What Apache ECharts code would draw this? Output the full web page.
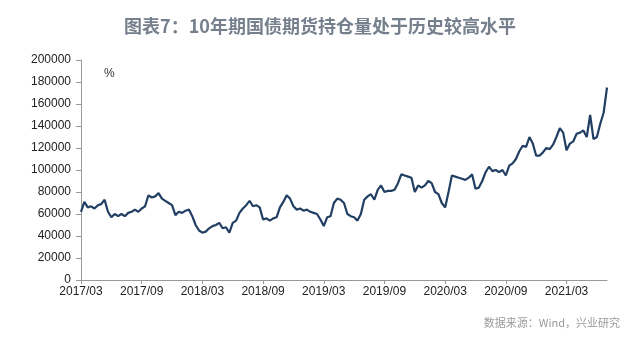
<!DOCTYPE html>
<html><head><meta charset="utf-8">
<script src="https://cdn.jsdelivr.net/npm/echarts@6/dist/echarts.min.js"></script>
<style>html,body{margin:0;padding:0;background:#fff}#c{width:640px;height:341px}</style>
</head><body><div id="c"></div>
<script>
// dekad-level readings (3 per month) from 2017/03 to 2021/07
const values = [
62000,71000,66000,67000,65000,68000,69000,73000,62000,57000,
60000,58000,60000,58000,61000,62000,64000,62000,65000,67000,
77000,75000,76000,79000,74000,72000,70000,68000,59000,62000,
61000,63000,64000,58000,50000,45000,43000,44000,47000,49000,
50000,52000,47000,48000,43000,52000,54000,61000,65000,68000,
72000,67000,68000,66000,55000,56000,54000,56000,57000,66000,
71000,77000,74000,67000,64000,65000,63000,64000,62000,61000,
60000,55000,49000,57000,58000,70000,74000,73000,70000,60000,
58000,57000,54000,60000,73000,76000,78000,73000,82000,86000,
80000,81000,81000,82000,88000,96000,95000,94000,93000,80000,
86000,84000,86000,90000,88000,80000,78000,70000,66000,80000,
95000,94000,93000,92000,91000,93000,96000,83000,84000,90000,
98000,103000,99000,100000,98000,100000,95000,104000,106000,110000,
117000,122000,121000,130000,124000,113000,113000,116000,120000,119000,
123000,130000,138000,134000,118000,124000,126000,133000,134000,136000,
130000,150000,128000,130000,142000,152000,175000
];
const startYear = 2017, startMonth = 3;
const categories = [];
for (let i = 0; i < values.length; i++) {
  const m = startMonth - 1 + Math.floor(i / 3);
  const y = startYear + Math.floor(m / 12);
  const mm = (m % 12) + 1;
  const d = ['01','11','21'][i % 3];
  categories.push(y + '/' + (mm < 10 ? '0' + mm : mm) + '/' + d);
}
const yTicks = [0, 200000, 20000];
const titleText = '图表7：10年期国债期货持仓量处于历史较高水平';
const unitText = '%';
const sourceText = '数据来源：Wind，兴业研究';

const chart = echarts.init(document.getElementById('c'));
chart.setOption({
  animation: false,
  title: {
    text: titleText, left: 'center', top: 12,
    textStyle: {fontSize: 18, fontWeight: 'bold', color: '#75808c', fontFamily: 'Noto Sans CJK SC'}
  },
  graphic: [
    {type: 'text', left: 104, top: 68, style: {text: unitText, fontSize: 12, fill: '#333', fontFamily: 'Liberation Sans'}},
    {type: 'text', right: 20, top: 317, style: {text: sourceText, fontSize: 11, fill: '#9a9a9a', fontFamily: 'Noto Sans CJK SC'}}
  ],
  grid: {left: 81, right: 33, top: 60, bottom: 61},
  xAxis: {
    type: 'category', data: categories, boundaryGap: false,
    axisLine: {lineStyle: {color: '#999'}},
    axisTick: {interval: 17, length: 4, lineStyle: {color: '#999'}},
    axisLabel: {interval: 17, color: '#222', fontSize: 12, fontFamily: 'Liberation Sans', margin: 6,
      formatter: v => v.slice(0, 7)}
  },
  yAxis: {
    type: 'value', min: yTicks[0], max: yTicks[1], interval: yTicks[2],
    splitLine: {show: false},
    axisLine: {show: true, lineStyle: {color: '#999'}},
    axisTick: {show: true, length: 5, lineStyle: {color: '#999'}},
    axisLabel: {color: '#222', fontSize: 12, fontFamily: 'Liberation Sans', margin: 10,
      formatter: v => String(v)}
  },
  series: [{
    type: 'line', data: values, symbol: 'none',
    lineStyle: {color: '#213f63', width: 2.2}
  }]
});
</script></body></html>
